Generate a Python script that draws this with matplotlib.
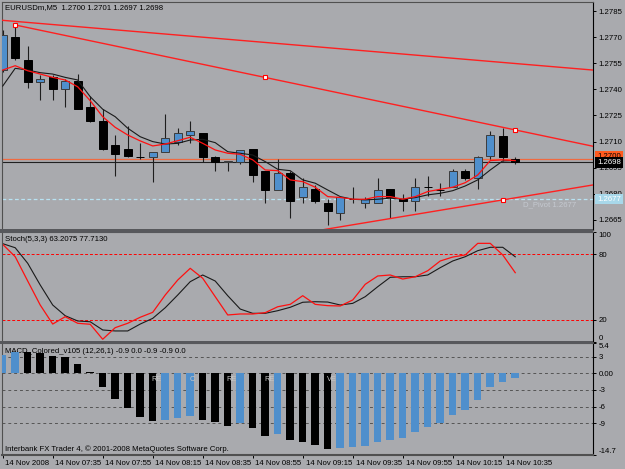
import numpy as np
import matplotlib.pyplot as plt
import matplotlib.transforms as mtransforms
from matplotlib.patches import Rectangle

plt.rcParams['font.family'] = ['Liberation Sans', 'DejaVu Sans']
plt.rcParams['font.size'] = 5.6
FS = 5.6

# EURUSDm M5, 14 Nov 2008, 07:15 .. 10:40
opens = [1.2751, 1.2770, 1.2757, 1.2744, 1.2747, 1.2740, 1.2745, 1.2730, 1.2722, 1.2708,
         1.2706, 1.2701, 1.2701, 1.2704, 1.2710, 1.2714, 1.2715, 1.2701, 1.2698, 1.2698,
         1.2706, 1.2693, 1.2682, 1.2692, 1.2678, 1.2683, 1.2675, 1.2669, 1.2677, 1.2675,
         1.2675, 1.2683, 1.2677, 1.2676, 1.2684, 1.2682, 1.2684, 1.2693, 1.2689, 1.2702,
         1.2713, 1.2700]
highs = [1.2774, 1.2776, 1.2765, 1.2748, 1.2748, 1.2746, 1.2749, 1.2736, 1.2729, 1.2714,
         1.2719, 1.2709, 1.2704, 1.2726, 1.2718, 1.2722, 1.2715, 1.2702, 1.2699, 1.2705,
         1.2706, 1.2693, 1.2700, 1.2693, 1.2689, 1.2685, 1.2677, 1.2678, 1.2684, 1.2678,
         1.2689, 1.2683, 1.2680, 1.2689, 1.2690, 1.2686, 1.2694, 1.2694, 1.2702, 1.2716,
         1.2718, 1.2701]
lows = [1.2750, 1.2757, 1.2741, 1.2734, 1.2734, 1.2730, 1.2729, 1.2721, 1.2705, 1.2690,
        1.2701, 1.2700, 1.2687, 1.2704, 1.2708, 1.2709, 1.2698, 1.2693, 1.2693, 1.2697,
        1.2687, 1.2675, 1.2682, 1.2666, 1.2675, 1.2675, 1.2662, 1.2665, 1.2675, 1.2672,
        1.2675, 1.2666, 1.2670, 1.2670, 1.2679, 1.2679, 1.2684, 1.2688, 1.2683, 1.2700,
        1.2699, 1.2697]
closes = [1.2771, 1.2758, 1.2744, 1.2746, 1.2740, 1.2745, 1.2729, 1.2722, 1.2706, 1.2703,
          1.2702, 1.2701, 1.2704, 1.2712, 1.2715, 1.2716, 1.2701, 1.2698, 1.2699, 1.2705,
          1.2691, 1.2682, 1.2692, 1.2676, 1.2684, 1.2676, 1.2670, 1.2678, 1.2677, 1.2677,
          1.2682, 1.2678, 1.2676, 1.2684, 1.2684, 1.2682, 1.2693, 1.2689, 1.2701, 1.2714,
          1.2701, 1.2698]

ma_fast = [1.27511, 1.27536, 1.27507, 1.27488, 1.27469, 1.27454, 1.27415, 1.27335, 1.27243, 1.27182,
           1.27138, 1.27104, 1.27075, 1.27086, 1.27105, 1.27125, 1.27090, 1.27052, 1.27033, 1.27027,
           1.26995, 1.26937, 1.26933, 1.26880, 1.26870, 1.26838, 1.26784, 1.26779, 1.26769, 1.26769,
           1.26784, 1.26784, 1.26769, 1.26784, 1.26813, 1.26826, 1.26838, 1.26864, 1.26908, 1.26991,
           1.26995, 1.26991]
ma_slow = [1.27419, 1.27521, 1.27511, 1.27496, 1.27488, 1.27469, 1.27454, 1.27358, 1.27286, 1.27243,
           1.27177, 1.27128, 1.27100, 1.27086, 1.27090, 1.27109, 1.27113, 1.27094, 1.27042, 1.27033,
           1.27023, 1.26985, 1.26941, 1.26933, 1.26880, 1.26861, 1.26822, 1.26784, 1.26769, 1.26765,
           1.26769, 1.26775, 1.26769, 1.26778, 1.26794, 1.26803, 1.26818, 1.26845, 1.26880, 1.26937,
           1.26989, 1.26991]

stoch_main = [89.1, 77.8, 55.6, 33.7, 16.3, 23.0, 17.0, 16.1, 2.4, 13.0,
              17.0, 22.5, 27.0, 42.8, 56.5, 67.2, 58.1, 41.3, 24.6, 25.5,
              25.5, 26.7, 32.1, 34.3, 42.2, 34.3, 33.1, 32.8, 38.3, 52.6,
              60.2, 61.1, 57.4, 59.5, 65.0, 73.9, 77.5, 79.4, 90.0, 90.0,
              79.4, 63.2075]
stoch_signal = [89.7, 86.0, 71.8, 52.0, 33.7, 23.9, 19.1, 18.4, 10.9, 10.0,
                10.0, 16.3, 21.5, 31.2, 42.8, 55.0, 61.1, 55.6, 42.2, 30.0,
                26.1, 26.1, 28.5, 31.6, 36.2, 36.7, 36.4, 33.7, 35.2, 41.3,
                50.4, 59.0, 59.5, 59.5, 61.1, 67.8, 73.9, 77.8, 83.3, 86.4,
                86.4, 77.7130]

macd = [3.3, 3.9, 3.8, 3.7, 3.1, 2.9, 1.7, 0.2, -2.4, -4.7,
        -6.3, -7.8, -8.6, -8.4, -8.1, -7.7, -8.4, -8.7, -9.5, -9.0,
        -9.9, -11.2, -11.0, -12.0, -12.3, -12.9, -13.7, -13.5, -13.3, -13.1,
        -12.4, -12.0, -11.7, -10.6, -9.7, -8.9, -7.5, -6.6, -4.8, -2.4,
        -1.5, -0.9]
macd_rising = [1, 1, 0, 0, 0, 0, 0, 0, 0, 0,
               0, 0, 0, 1, 1, 1, 0, 0, 0, 1,
               0, 0, 1, 0, 0, 0, 0, 1, 1, 1,
               1, 1, 1, 1, 1, 1, 1, 1, 1, 1,
               1, 1]

time_labels = ['14 Nov 2008', '14 Nov 07:35', '14 Nov 07:55', '14 Nov 08:15', '14 Nov 08:35',
               '14 Nov 08:55', '14 Nov 09:15', '14 Nov 09:35', '14 Nov 09:55', '14 Nov 10:15',
               '14 Nov 10:35']
price_ticks = [1.2785, 1.2770, 1.2755, 1.2740, 1.2725, 1.2710, 1.2695, 1.2680, 1.2665]

# trend lines (bar index, price)
line_a = [(-0.22, 1.27798), (47.22, 1.27511)]
line_b = [(1, 1.27770), (41, 1.27167)]
line_c = [(40, 1.26765), (47.22, 1.26851)]
bid, ask, pivot = 1.2698, 1.2700, 1.2677

BG = '#a9aaae'
BLUE = '#4f8fcc'
W, H = 625, 469


def box(l, t, r, b):
    return [l / W, 1 - b / H, (r - l) / W, (b - t) / H]


fig = plt.figure(figsize=(6.25, 4.69), dpi=100, facecolor=BG)
ax1 = fig.add_axes(box(2, 2, 593, 229.5))
ax2 = fig.add_axes(box(2, 232.4, 593, 341.9), sharex=ax1)
ax3 = fig.add_axes(box(2, 343.3, 593, 455), sharex=ax1)

x = np.arange(len(opens))
o, h, l, c = map(np.array, (opens, highs, lows, closes))

for ax in (ax1, ax2, ax3):
    ax.set_facecolor(BG)
    for s in ax.spines.values():
        s.set_color('#505050')
        s.set_linewidth(0.8)
    ax.spines['right'].set_color('black')
    ax.yaxis.tick_right()
    ax.tick_params(axis='y', length=2.2, width=0.7, pad=1.8, labelsize=FS, colors='black')
    ax.tick_params(axis='x', bottom=False, labelbottom=False)

ax1.set_xlim(-0.056, 47.22)

# ---- price panel ----
ax1.axhline(ask, color='#f06a40', lw=0.9, zorder=1)
ax1.axhline(bid, color='#202020', lw=0.8, zorder=1)
ax1.axhline(pivot, color='#b8e2f2', lw=0.9, ls=(0, (3, 2)), zorder=1)

ax1.vlines(x, l, h, color='#1e1e1e', lw=0.8, zorder=3)
body_col = np.where(c > o, BLUE, 'black')
edge_col = np.where(c > o, '#3c3c3c', 'black')
ax1.bar(x, np.maximum(np.abs(c - o), 2e-6), 0.64, bottom=np.minimum(o, c),
        color=body_col, edgecolor=edge_col, lw=0.7, zorder=4)

ax1.plot(x, ma_slow, color='#1a1a1a', lw=0.8, zorder=5)
ax1.plot(x, ma_fast, color='#ff1010', lw=0.9, zorder=5)

ax1.axline(*line_a, color='#ff2020', lw=1.0, zorder=6)
ax1.axline(*line_c, color='#ff2020', lw=1.0, zorder=6)
(bx0, by0), (bx1, by1) = line_b
slope_b = (by1 - by0) / (bx1 - bx0)
ax1.plot([bx0, 48], [by0, by0 + slope_b * (48 - bx0)], color='#ff2020', lw=1.0, zorder=6)
ax1.plot([bx0, (bx0 + bx1) / 2, bx1], [by0, (by0 + by1) / 2, by1], ls='none', marker='s',
         ms=3, mfc='white', mec='red', mew=0.8, zorder=7)
ax1.plot([line_c[0][0]], [line_c[0][1]], ls='none', marker='s',
         ms=3, mfc='white', mec='red', mew=0.8, zorder=7)

ax1.set_ylim(1.26595, 1.27902)
ax1.set_yticks(price_ticks)
ax1.set_yticklabels([f'{v:.4f}' for v in price_ticks])

for val, fc, tc, dy in [(ask, '#ff5a1e', 'black', 3), (bid, 'black', 'white', 0),
                        (pivot, '#a8d8ea', 'white', 0)]:
    ax1.annotate(f'{val:.4f}', xy=(1, val), xycoords=('axes fraction', 'data'),
                 xytext=(4, dy), textcoords='offset pixels', ha='left', va='center',
                 color=tc, fontsize=FS, annotation_clip=False, zorder=10,
                 bbox=dict(boxstyle='square,pad=0.25', fc=fc, ec='none'))

ax1.annotate(f'D_Pivot {pivot:.4f}', xy=(41.6, pivot), xytext=(0, -6),
             textcoords='offset pixels', ha='left', va='center', color='#c5c9d0', fontsize=FS)
ax1.annotate('EURUSDm,M5  1.2700 1.2701 1.2697 1.2698', xy=(0, 1), xycoords='axes fraction',
             xytext=(3, -6), textcoords='offset pixels', ha='left', va='center', fontsize=FS)

# ---- stochastic ----
ax2.axhline(80, color='red', lw=0.7, ls=(0, (3, 2)))
ax2.axhline(20, color='red', lw=0.7, ls=(0, (3, 2)))
ax2.plot(x, stoch_signal, color='#1a1a1a', lw=0.8)
ax2.plot(x, stoch_main, color='#ff1010', lw=0.9)
ax2.set_ylim(0, 100)
ax2.set_yticks([100, 80, 20, 0])
ax2.set_yticklabels(['100', '80', '20', '0'])
ax2.get_yticklabels()[0].set_va('top')
ax2.get_yticklabels()[3].set_va('bottom')
ax2.annotate('Stoch(5,3,3) 63.2075 77.7130', xy=(0, 1), xycoords='axes fraction',
             xytext=(3, -7), textcoords='offset pixels', ha='left', va='center', fontsize=FS)

# ---- MACD ----
for lev in [3, 0, -3, -6, -9]:
    ax3.axhline(lev, color='#555555', lw=0.7, ls=(0, (3, 3)), zorder=1)
ax3.annotate('MACD_Colored_v105 (12,26,1) -0.9 0.0 -0.9 -0.9 0.0', xy=(0, 1),
             xycoords='axes fraction', xytext=(3, -8), textcoords='offset pixels',
             ha='left', va='center', fontsize=FS, zorder=2)
ax3.bar(x, macd, 0.6, color=np.where(np.array(macd_rising) == 1, BLUE, 'black'), zorder=3)
for bi, frag in [(12, 'RE'), (15, 'C'), (18, 'RE'), (21, 'RE'), (26, 'VE')]:
    ax3.annotate(frag, xy=(bi, 0), xytext=(-1, -6), textcoords='offset pixels',
                 ha='left', va='center', color='#c8c8c8', fontsize=5.2, zorder=4)
ax3.annotate('Interbank FX Trader 4, \u00a9 2001-2008 MetaQuotes Software Corp.', xy=(0, 0),
             xycoords='axes fraction', xytext=(3, 6), textcoords='offset pixels',
             ha='left', va='center', fontsize=FS, zorder=5)
ax3.set_ylim(-14.7, 5.4)
ax3.set_yticks([5.4, 3, 0, -3, -6, -9, -14.7])
ax3.set_yticklabels(['5.4', '3', '0.00', '-3', '-6', '-9', '-14.7'])
ax3.get_yticklabels()[0].set_va('top')
ax3.get_yticklabels()[6].set_va('bottom')

ax3.tick_params(axis='x', bottom=True, labelbottom=True, length=2.5, width=0.7, pad=0.8,
                labelsize=FS)
ax3.set_xticks(x[::4])
ax3.set_xticklabels(time_labels, ha='left')
shift = mtransforms.ScaledTranslation(2 / 72, 0, fig.dpi_scale_trans)
for lbl in ax3.get_xticklabels():
    lbl.set_transform(lbl.get_transform() + shift)
ax3.spines['bottom'].set_linewidth(1.5)

# panel separators
for top, bot in [(228.8, 232.6), (340.8, 343.6)]:
    fig.add_artist(Rectangle((0, 1 - bot / H), 593 / W, (bot - top) / H,
                             transform=fig.transFigure, fc='#57585c', ec='none'))

fig.savefig('out.png', dpi=100, facecolor=BG)
